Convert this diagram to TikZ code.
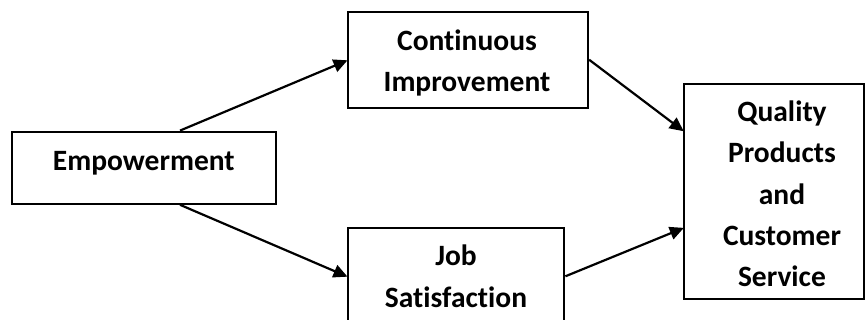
\documentclass[tikz,border=0pt]{standalone}
\usepackage{fontspec}
\setmainfont{Carlito}[RawFeature=-liga]
\usetikzlibrary{arrows.meta}
\tikzset{
  box/.style={draw=black, line width=2.2pt, rectangle, inner sep=0pt},
  lbl/.style={font=\bfseries\fontsize{29.5}{41.3}\selectfont, align=center, inner sep=0pt, anchor=base},
  conn/.style={line width=2.2pt, -{Triangle[length=14pt,width=13pt]}, shorten >=-1pt}
}
\begin{document}
\begin{tikzpicture}[x=1pt,y=-1pt]
\useasboundingbox (0,0) rectangle (865,320);
% boxes
\node[box, minimum width=264.3pt, minimum height=72pt] (emp) at (143.85,167.7) {};
\node[box, minimum width=240.3pt, minimum height=96pt] (cont) at (467.85,59.7) {};
\node[box, minimum width=216.6pt, minimum height=96pt] (job) at (456,276.3) {};
\node[box, minimum width=180.3pt, minimum height=215.3pt] (qual) at (774.15,191.65) {};
% texts (anchor = baseline of last line)
\node[lbl] (empt) at (143.8,170.7) {Empowerment};
\node[lbl] (contt) at (467,91.7) {Continuous\\Improvement};
\node[lbl] (jobt) at (456,307.3) {Job\\Satisfaction};
\node[lbl] (qualt) at (782,286.7) {Quality\\Products\\and\\Customer\\Service};
% connectors
\draw[conn] ([xshift=36.15pt]emp.north) -- ([yshift=-1pt]cont.west);
\draw[conn] ([xshift=36.15pt]emp.south) -- (job.west);
\draw[conn] (cont.east) -- ([yshift=61pt]qual.west);
\draw[conn] (job.east) -- ([yshift=-36.6pt]qual.west);
\end{tikzpicture}
\end{document}
